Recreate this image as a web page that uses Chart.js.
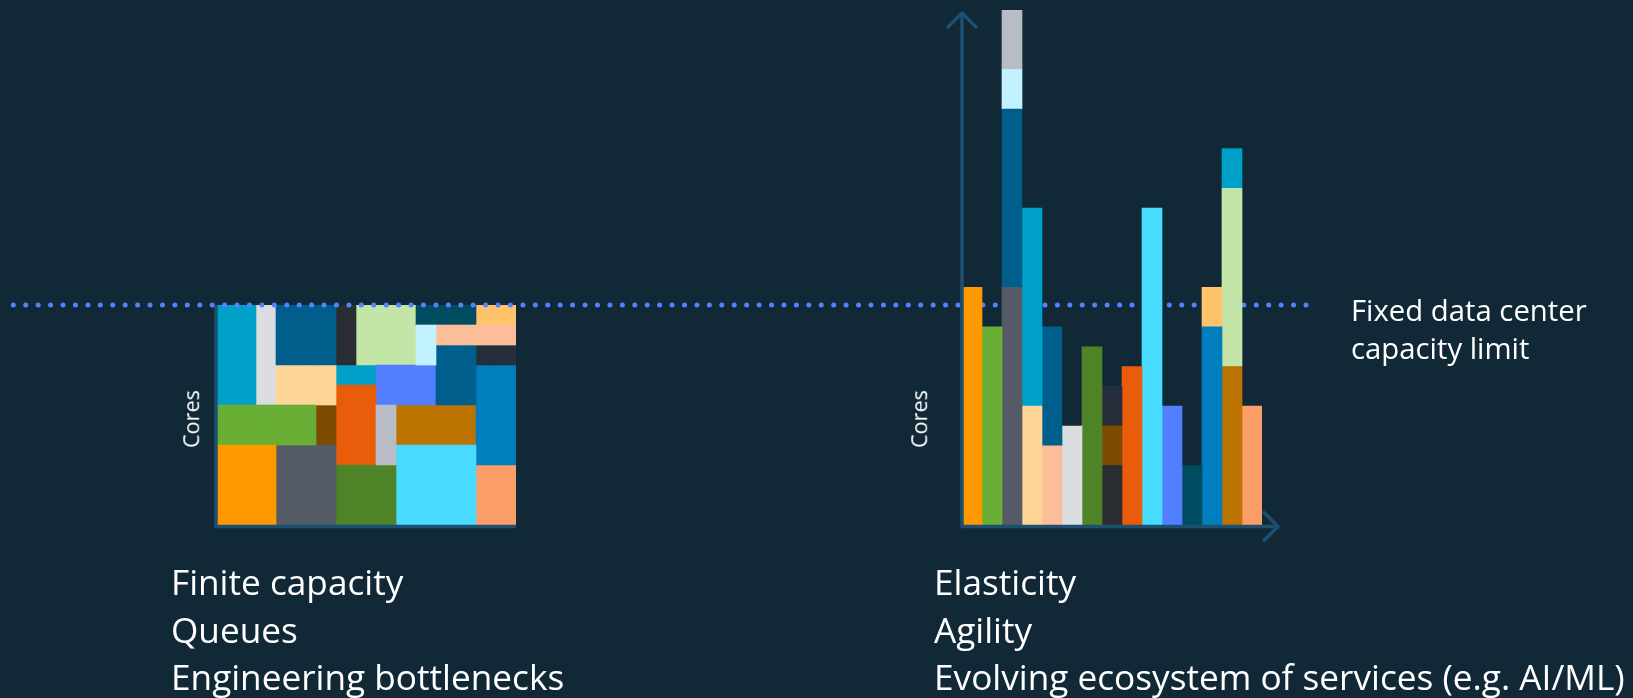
<!DOCTYPE html>
<html>
<head>
<meta charset="utf-8">
<script src="https://cdn.jsdelivr.net/npm/chart.js@4.4.1/dist/chart.umd.min.js"></script>
<style>
  html, body { margin: 0; padding: 0; }
  body {
    width: 1633px; height: 698px; overflow: hidden; position: relative;
    background: #112837; color: #ffffff;
    font-family: "Open Sans", "Noto Sans", sans-serif;
  }
  canvas { position: absolute; left: 0; top: 0; }
  #fixedChart { z-index: 1; }
  #elasticChart { z-index: 2; }
  .caption { position: absolute; z-index: 3; white-space: nowrap; }
  .points { font-size: 35.2px; line-height: 47.5px; top: 558px; }
  #fixedPoints { left: 171px; }
  #elasticPoints { left: 934px; }
  #limitLabel { left: 1351px; top: 292px; font-size: 29.3px; line-height: 37.6px; }
  .axisTitle {
    position: absolute; z-index: 3; font-size: 21.6px; line-height: 1;
    transform: translate(-50%, -50%) rotate(-90deg); white-space: nowrap;
  }
  #fixedTitle { left: 191px; top: 419px; }
  #elasticTitle { left: 919px; top: 419px; }
</style>
</head>
<body>
<canvas id="fixedChart" width="1633" height="698"></canvas>
<canvas id="elasticChart" width="1633" height="698"></canvas>

<div class="axisTitle" id="fixedTitle">Cores</div>
<div class="axisTitle" id="elasticTitle">Cores</div>
<div class="caption" id="limitLabel">Fixed data center<br>capacity limit</div>
<div class="caption points" id="fixedPoints">Finite capacity<br>Queues<br>Engineering bottlenecks</div>
<div class="caption points" id="elasticPoints">Elasticity<br>Agility<br>Evolving ecosystem of services (e.g. AI/ML)</div>

<script>
// Server slots of the fixed cluster (x categories of both charts)
const serverSlots = ['1','2','3','4','5','6','7','8','9','10','11','12','13','14','15'];

// Cores available in the fixed data center
const CAPACITY = 11;

// Workloads, listed bottom-to-top per elastic bar
const workloads = ['W1','W2','W3','W4','W5','W6','W7','W8','W9','W10','W11','W12','W13',
                   'W14','W15','W16','W17','W18','W19','W20','W21','W22','W23','W24','W25'];

// Fixed cluster: slot span [from, to) and core range [from, to) each workload is packed into
const packedSlots = [[0,3],[0,5],[3,6],[3,6],[10,11],[8,9],[3,6],[0,2],[11,15],[11,13],[2,3],[6,9],[6,7],
                     [5,6],[13,15],[6,8],[9,13],[8,11],[10,13],[13,15],[13,15],[9,13],[7,10],[6,8],[13,15]];
const packedCores = [[0,4],[4,6],[0,4],[8,11],[8,10],[3,6],[6,8],[6,11],[9,10],[6,9],[6,11],[0,3],[8,11],
                     [4,6],[8,9],[3,7],[0,4],[6,8],[10,11],[3,8],[10,11],[4,6],[8,11],[7,8],[0,3]];

// Elastic cloud: which bar each workload lands on and the cores it scales to
const elasticBar   = [0,1,2,2,2,2,3,3,4,4,5,6,7,7,7,8,9,10,11,12,12,13,13,13,14];
const elasticCores = [12,10,12,9,2,3,6,10,4,6,5,9,3,2,2,8,16,6,3,10,2,8,9,2,6];

// One colour per workload
const workloadColors = ['#FF9900','#6AAF35','#545B66','#005E8C','#C2F2FF','#B8BCC4','#FFD597','#00A1C9',
                        '#FBBE98','#005E8C','#DCDDE1','#4F8328','#2A2D32','#7D4B00','#262D3B','#E95D0A',
                        '#48DBFF','#527FFF','#004D62','#007EBD','#FFC46B','#BC7300','#C3E6A8','#00A1C9','#FA9D66'];

const AXIS_COLOR = '#1D5070';
const LIMIT_COLOR = '#5283FF';

// Axis lines drawn at the chart-area edges, with optional arrow heads
const axisLines = {
  id: 'axisLines',
  afterDatasetsDraw(chart, args, opts) {
    const { ctx, chartArea: a } = chart;
    const base = a.bottom + 1.5;
    ctx.save();
    ctx.strokeStyle = AXIS_COLOR;
    ctx.lineWidth = opts.width || 3.5;
    ctx.beginPath();
    if (opts.arrows) {
      ctx.lineCap = 'round';
      ctx.lineJoin = 'round';
      const tipY = a.top + 3, tipX = a.right + 16, h = 14;
      ctx.moveTo(a.left, base); ctx.lineTo(a.left, tipY);
      ctx.moveTo(a.left - h, tipY + h); ctx.lineTo(a.left, tipY); ctx.lineTo(a.left + h, tipY + h);
      ctx.moveTo(a.left, base); ctx.lineTo(tipX, base);
      ctx.moveTo(tipX - h, base - h); ctx.lineTo(tipX, base); ctx.lineTo(tipX - h, base + h);
    } else {
      ctx.moveTo(a.left, a.top); ctx.lineTo(a.left, base + 1.75);
      ctx.moveTo(a.left - 1.75, base); ctx.lineTo(a.right, base);
    }
    ctx.stroke();
    ctx.restore();
  }
};

// Dotted capacity limit line across the page
const capacityLine = {
  id: 'capacityLine',
  afterDatasetsDraw(chart, args, opts) {
    const { ctx } = chart;
    const y = chart.scales.y.getPixelForValue(opts.value);
    ctx.save();
    ctx.strokeStyle = LIMIT_COLOR;
    ctx.lineWidth = 5;
    ctx.lineCap = 'round';
    ctx.setLineDash([0, opts.gap]);
    ctx.beginPath();
    ctx.moveTo(opts.from, y);
    ctx.lineTo(opts.to, y);
    ctx.stroke();
    ctx.restore();
  }
};

const barStyle = { barPercentage: 1, categoryPercentage: 1, borderWidth: 0 };

// Fixed cluster: every workload is a floating bar block across its slots
const fixedDatasets = workloads.map((name, i) => {
  const data = serverSlots.map((s, k) =>
    (k >= packedSlots[i][0] && k < packedSlots[i][1]) ? packedCores[i] : null);
  return Object.assign({ label: name, data, backgroundColor: workloadColors[i] }, barStyle);
});

new Chart(document.getElementById('fixedChart'), {
  type: 'bar',
  data: { labels: serverSlots, datasets: fixedDatasets },
  options: {
    responsive: false, animation: false, devicePixelRatio: 1,
    layout: { padding: { left: 216, right: 1117, top: 305, bottom: 173 } },
    plugins: {
      legend: { display: false }, tooltip: { enabled: false },
      axisLines: { arrows: false },
      capacityLine: { value: CAPACITY, from: 13.3, to: 1310, gap: 12.43 }
    },
    scales: {
      x: { display: false, stacked: true },
      y: { display: false, min: 0, max: CAPACITY }
    }
  },
  plugins: [axisLines, capacityLine]
});

// Elastic cloud: each workload stacks its cores on one bar
const elasticDatasets = workloads.map((name, i) => {
  const data = serverSlots.map((s, k) => (k === elasticBar[i] ? elasticCores[i] : null));
  return Object.assign({ label: name, data, backgroundColor: workloadColors[i] }, barStyle);
});

new Chart(document.getElementById('elasticChart'), {
  type: 'bar',
  data: { labels: serverSlots, datasets: elasticDatasets },
  options: {
    responsive: false, animation: false, devicePixelRatio: 1,
    layout: { padding: { left: 962, right: 371, top: 10, bottom: 173 } },
    plugins: {
      legend: { display: false }, tooltip: { enabled: false },
      axisLines: { arrows: true }
    },
    scales: {
      x: { display: false, stacked: true },
      y: { display: false, stacked: true, min: 0, max: 26 }
    }
  },
  plugins: [axisLines]
});
</script>
</body>
</html>
